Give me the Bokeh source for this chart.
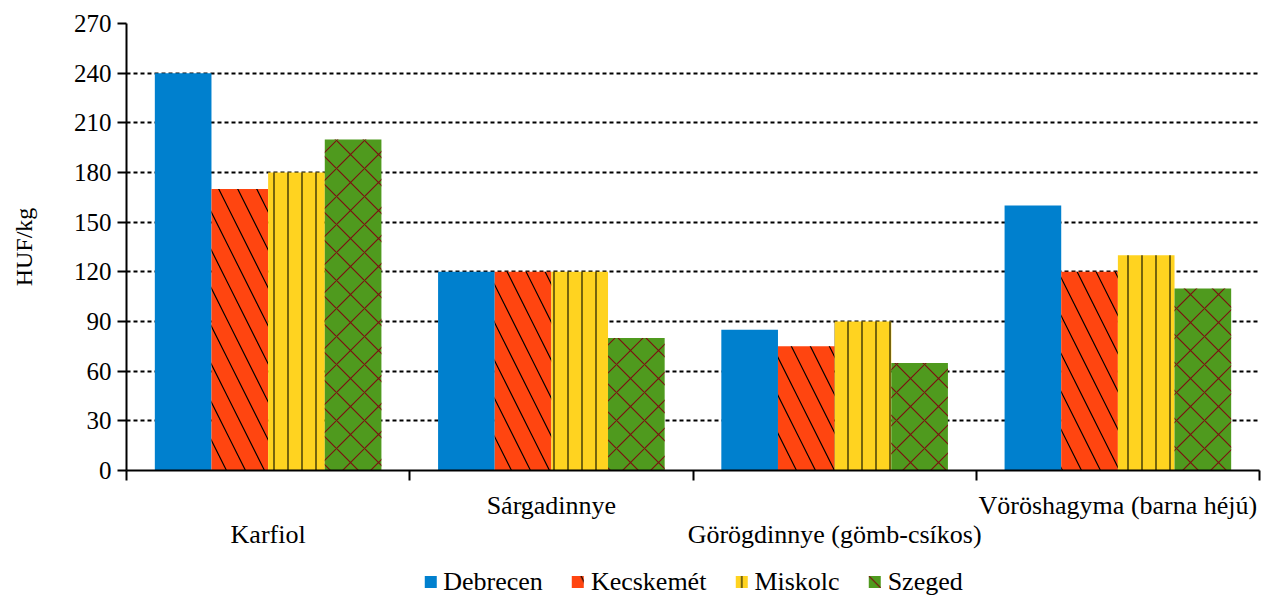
from bokeh.plotting import figure
from bokeh.layouts import column
from bokeh.models import (Range1d, FixedTicker, LinearAxis, Legend, LegendItem,
                          ColumnDataSource, Grid)
from bokeh.embed import file_html
from bokeh.resources import INLINE

categories = ["Karfiol", "Sárgadinnye", "Görögdinnye (gömb-csíkos)", "Vöröshagyma (barna héjú)"]
cities = ["Debrecen", "Kecskemét", "Miskolc", "Szeged"]
debrecen = [240, 120, 85, 160]
kecskemet = [170, 120, 75, 120]
miskolc = [180, 120, 90, 130]
szeged = [200, 80, 65, 110]
y_ticks = [0, 30, 60, 90, 120, 150, 180, 210, 240, 270]

series = [debrecen, kecskemet, miskolc, szeged]
fills = ["#0080CE", "#FF4510", "#FFD320", "#4F9A1E"]
hatches = [None, "\\", "|", "x"]
hatch_colors = [None, "#000000", "#1a1a00", "#7A1010"]
hatch_scales = [12, 38, 14, 28]

FONT = "Liberation Serif"

p = figure(frame_width=1133, frame_height=447, output_backend="svg", toolbar_location=None,
           x_range=Range1d(0, 4), y_range=Range1d(0, 270),
           min_border_left=126, min_border_right=2, min_border_top=23, min_border_bottom=86,
           x_axis_type=None, y_axis_type=None)
p.outline_line_color = None
p.background_fill_color = "white"

grid = Grid(dimension=1, ticker=FixedTicker(ticks=y_ticks))
grid.grid_line_color = "black"
grid.grid_line_dash = "4 3"
grid.grid_line_width = 2
p.add_layout(grid)

# y axis
yax = LinearAxis(ticker=FixedTicker(ticks=y_ticks, minor_ticks=[]))
yax.axis_label = "HUF/kg"
yax.axis_label_text_font = FONT
yax.axis_label_text_font_size = "24px"
yax.axis_label_text_font_style = "normal"
yax.axis_label_text_color = "black"
yax.axis_label_standoff = 34
yax.major_label_text_font = FONT
yax.major_label_text_font_size = "25px"
yax.major_label_text_color = "black"
yax.axis_line_width = 2
yax.major_tick_line_width = 2
yax.major_tick_out = 9
yax.major_tick_in = 0
yax.minor_tick_line_color = None
yax.major_label_standoff = 6
p.add_layout(yax, "left")

# x axis with boundary ticks and upper row of labels
xax1 = LinearAxis(ticker=FixedTicker(ticks=[1.5, 3.5], minor_ticks=[0, 1, 2, 3, 4]))
xax1.major_label_overrides = {1.5: categories[1], 3.5: categories[3]}
xax1.major_label_text_font = FONT
xax1.major_label_text_font_size = "26px"
xax1.major_label_text_color = "black"
xax1.major_tick_line_color = None
xax1.major_tick_out = 0
xax1.major_tick_in = 0
xax1.minor_tick_out = 10
xax1.minor_tick_in = 0
xax1.minor_tick_line_width = 2
xax1.minor_tick_line_color = "black"
xax1.axis_line_width = 2
xax1.major_label_standoff = 10
p.add_layout(xax1, "below")

xax2 = LinearAxis(ticker=FixedTicker(ticks=[0.5, 2.5], minor_ticks=[]))
xax2.major_label_overrides = {0.5: categories[0], 2.5: categories[2]}
xax2.major_label_text_font = FONT
xax2.major_label_text_font_size = "26px"
xax2.major_label_text_color = "black"
xax2.major_tick_line_color = None
xax2.major_tick_out = 0
xax2.major_tick_in = 0
xax2.minor_tick_line_color = None
xax2.axis_line_color = None
xax2.major_label_standoff = -3
p.add_layout(xax2, "below")

# legend strip (separate figure so its position is exact)
lf = figure(width=1261, height=43, output_backend="svg", toolbar_location=None,
            x_range=Range1d(0, 1), y_range=Range1d(1000, 1001),
            min_border_left=20, min_border_right=0, min_border_top=8, min_border_bottom=0,
            x_axis_type=None, y_axis_type=None)
lf.outline_line_color = None

items = []
for j, vals in enumerate(series):
    xs = [i + 0.2 + 0.2 * j for i in range(len(categories))]
    src = ColumnDataSource(dict(x=xs, top=vals))
    kw = dict(x="x", top="top", width=0.2, bottom=0, source=src,
              fill_color=fills[j], line_color=None)
    if hatches[j]:
        kw.update(hatch_pattern=hatches[j], hatch_color=hatch_colors[j],
                  hatch_scale=hatch_scales[j], hatch_weight=1.2)
    p.vbar(**kw)
    r2 = lf.vbar(**kw)
    items.append(LegendItem(label=cities[j], renderers=[r2]))

legend = Legend(items=items, orientation="horizontal", location="center")
legend.label_text_font = FONT
legend.label_text_font_size = "26px"
legend.label_text_color = "black"
legend.glyph_width = 15
legend.glyph_height = 15
legend.label_standoff = 6
legend.spacing = 27
legend.border_line_color = None
legend.background_fill_alpha = 0
legend.padding = 0
legend.margin = 0
lf.add_layout(legend, "center")

layout = column(p, lf, spacing=0)
open("out.html", "w").write(file_html(layout, INLINE))
